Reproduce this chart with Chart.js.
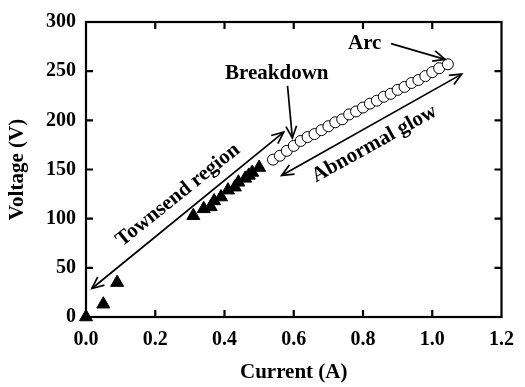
<!DOCTYPE html>
<html>
<head>
<meta charset="utf-8">
<script src="https://cdn.jsdelivr.net/npm/chart.js@4.4.0/dist/chart.umd.min.js"></script>
<style>
  html, body { margin: 0; padding: 0; background: #fff; }
</style>
</head>
<body>
<canvas id="chart" width="525" height="387"></canvas>
<script>
// Townsend region (filled triangles)
var triCurrent = [0, 0.05, 0.09, 0.31, 0.34, 0.36, 0.37, 0.39, 0.41, 0.43, 0.44, 0.46, 0.47, 0.48, 0.50];
var triVoltage = [0, 13, 35, 103, 110, 112, 118, 122, 129, 132, 137, 141, 144, 147, 152];

// glow / arc (open circles)
var circCurrent = [0.54, 0.56, 0.58, 0.60, 0.62, 0.64, 0.66, 0.68, 0.70, 0.72, 0.74, 0.76, 0.78,
                   0.80, 0.82, 0.84, 0.86, 0.88, 0.90, 0.92, 0.94, 0.96, 0.98, 1.00, 1.02, 1.045];
var circVoltage = [160, 164, 169, 174, 179, 183, 186, 190, 194, 198, 201, 206, 209,
                   213, 217, 220, 224, 227, 231, 234, 238, 241, 245, 249, 253, 257];

var xTicks = [0, 0.2, 0.4, 0.6, 0.8, 1.0, 1.2];
var yTicks = [0, 50, 100, 150, 200, 250, 300];

// annotations in data units
var arrows = [
  { from: [0.017, 29], to: [0.571, 188], both: true },
  { from: [0.565, 144], to: [1.085, 247], both: true },
  { from: [0.582, 235], to: [0.596, 182], both: false },
  { from: [0.881, 278], to: [1.037, 262], both: false }
];
var labels = [
  { text: 'Townsend region', at: [0.266, 124], angle: -38.7 },
  { text: 'Abnormal glow', at: [0.833, 176], angle: -29 },
  { text: 'Breakdown', at: [0.551, 248], angle: 0 },
  { text: 'Arc', at: [0.805, 278], angle: 0 }
];

var FONT = 'Liberation Serif';

function toPts(xs, ys) {
  return xs.map(function(x, i) { return { x: x, y: ys[i] }; });
}

function arrowHead(ctx, x0, y0, x1, y1) {
  var a = Math.atan2(y1 - y0, x1 - x0), len = 13, spread = 0.42;
  ctx.beginPath();
  ctx.moveTo(x1 - len * Math.cos(a - spread), y1 - len * Math.sin(a - spread));
  ctx.lineTo(x1, y1);
  ctx.lineTo(x1 - len * Math.cos(a + spread), y1 - len * Math.sin(a + spread));
  ctx.stroke();
}

var framePlugin = {
  id: 'frame',
  beforeDatasetsDraw: function(chart) {
    var ctx = chart.ctx, a = chart.chartArea;
    var xs = chart.scales.x, ys = chart.scales.y;
    ctx.save();
    ctx.strokeStyle = '#000';
    ctx.lineWidth = 2.2;
    ctx.strokeRect(a.left, a.top, a.right - a.left, a.bottom - a.top);
    var t = 7;
    ctx.beginPath();
    xTicks.slice(1, -1).forEach(function(v) {
      var px = xs.getPixelForValue(v);
      ctx.moveTo(px, a.bottom); ctx.lineTo(px, a.bottom - t);
      ctx.moveTo(px, a.top); ctx.lineTo(px, a.top + t);
    });
    yTicks.slice(1, -1).forEach(function(v) {
      var py = ys.getPixelForValue(v);
      ctx.moveTo(a.left, py); ctx.lineTo(a.left + t, py);
      ctx.moveTo(a.right, py); ctx.lineTo(a.right - t, py);
    });
    ctx.stroke();
    ctx.restore();
  },
  afterDatasetsDraw: function(chart) {
    var ctx = chart.ctx;
    var xs = chart.scales.x, ys = chart.scales.y;
    ctx.save();
    ctx.strokeStyle = '#000';
    ctx.lineWidth = 1.7;
    arrows.forEach(function(ar) {
      var x0 = xs.getPixelForValue(ar.from[0]), y0 = ys.getPixelForValue(ar.from[1]);
      var x1 = xs.getPixelForValue(ar.to[0]), y1 = ys.getPixelForValue(ar.to[1]);
      ctx.beginPath();
      ctx.moveTo(x0, y0); ctx.lineTo(x1, y1);
      ctx.stroke();
      arrowHead(ctx, x0, y0, x1, y1);
      if (ar.both) arrowHead(ctx, x1, y1, x0, y0);
    });
    ctx.fillStyle = '#000';
    ctx.font = 'bold 21px "' + FONT + '"';
    ctx.textAlign = 'center';
    ctx.textBaseline = 'middle';
    labels.forEach(function(lb) {
      ctx.save();
      ctx.translate(xs.getPixelForValue(lb.at[0]), ys.getPixelForValue(lb.at[1]));
      ctx.rotate(lb.angle * Math.PI / 180);
      ctx.fillText(lb.text, 0, 0);
      ctx.restore();
    });
    ctx.restore();
  }
};

var ctx = document.getElementById('chart').getContext('2d');

new Chart(ctx, {
  type: 'scatter',
  data: {
    datasets: [
      {
        data: toPts(triCurrent, triVoltage),
        pointStyle: 'triangle',
        pointRadius: 7.5,
        pointBackgroundColor: '#000',
        pointBorderColor: '#000',
        pointBorderWidth: 1,
        clip: false
      },
      {
        data: toPts(circCurrent, circVoltage),
        pointStyle: 'circle',
        pointRadius: 5.5,
        pointBackgroundColor: '#fff',
        pointBorderColor: '#000',
        pointBorderWidth: 1,
        clip: false
      }
    ]
  },
  options: {
    responsive: false,
    animation: false,
    layout: { padding: { top: 21, right: 14, left: 0, bottom: 0 } },
    plugins: { legend: { display: false }, tooltip: { enabled: false } },
    scales: {
      x: {
        type: 'linear',
        min: 0, max: 1.2,
        afterFit: function(s) { s.height = 70; },
        afterBuildTicks: function(s) { s.ticks = xTicks.map(function(v) { return { value: v }; }); },
        grid: { display: false, drawTicks: false },
        border: { display: false },
        ticks: {
          color: '#000',
          padding: 11,
          font: { family: FONT, size: 20, weight: 'bold' },
          callback: function(v) { return v.toFixed(1); }
        },
        title: {
          display: true, text: 'Current (A)', color: '#000',
          font: { family: FONT, size: 21, weight: 'bold' },
          padding: { top: 4, bottom: 2 }
        }
      },
      y: {
        type: 'linear',
        min: 0, max: 300,
        afterFit: function(s) { s.width = 86; },
        afterBuildTicks: function(s) { s.ticks = yTicks.map(function(v) { return { value: v }; }); },
        grid: { display: false, drawTicks: false },
        border: { display: false },
        ticks: {
          color: '#000',
          padding: 10,
          font: { family: FONT, size: 20, weight: 'bold' }
        },
        title: {
          display: true, text: 'Voltage (V)', color: '#000',
          font: { family: FONT, size: 21, weight: 'bold' },
          padding: { top: 5, bottom: 0 }
        }
      }
    }
  },
  plugins: [framePlugin]
});
</script>
</body>
</html>
